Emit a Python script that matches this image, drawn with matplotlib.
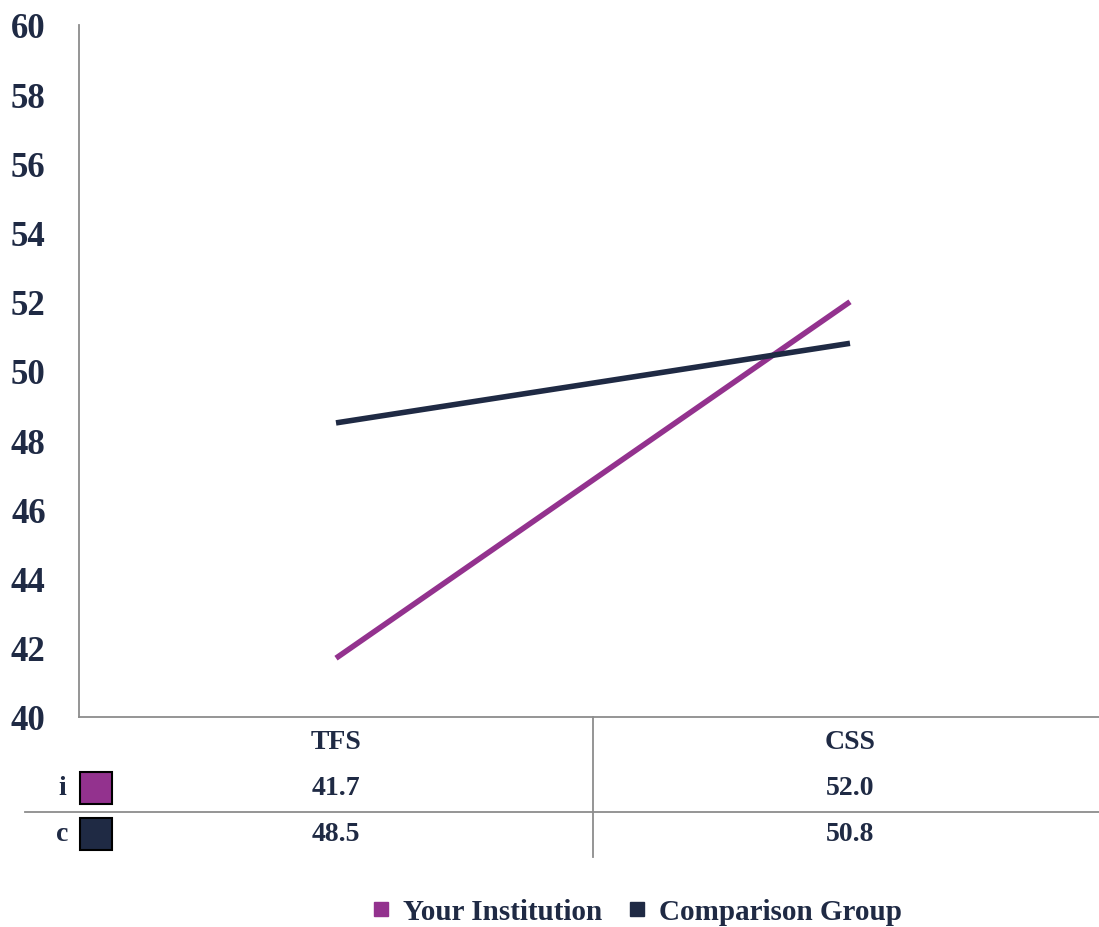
import matplotlib.pyplot as plt
from matplotlib.patches import Rectangle
from matplotlib.lines import Line2D

categories = ['TFS', 'CSS']
institution = [41.7, 52.0]
comparison = [48.5, 50.8]
series_names = ['Your Institution', 'Comparison Group']
row_labels = ['i', 'c']
yticks = list(range(40, 61, 2))

purple = '#93328E'
navy = '#1F2A44'
grid_gray = '#8C8C8C'

plt.rcParams['font.family'] = ['Liberation Serif', 'DejaVu Serif']
plt.rcParams['font.weight'] = 'bold'

fig = plt.figure(figsize=(10.99, 9.28), dpi=100)
W, H = 1099, 928
ax = fig.add_axes([79 / W, 210 / H, 1028 / W, 692 / H])

x = range(len(categories))
ax.plot(x, institution, color=purple, lw=4, solid_capstyle='butt')
ax.plot(x, comparison, color=navy, lw=4, solid_capstyle='butt')

ax.set_xlim(-0.5, len(categories) - 0.5)
ax.set_ylim(40, 60)
ax.set_yticks(yticks)
ax.set_yticklabels([str(t) for t in yticks], fontsize=25, color=navy, fontweight='bold')
ax.tick_params(axis='y', length=0, pad=24)
ax.set_xticks([])
for s in ['top', 'right']:
    ax.spines[s].set_visible(False)
for s in ['left', 'bottom']:
    ax.spines[s].set_color(grid_gray)
    ax.spines[s].set_linewidth(1.3)

# data table under the chart
def fy(py):
    return 1 - py / H

row_y = [789, 835]
rows = [institution, comparison]
colors = [purple, navy]
for i, cat in enumerate(categories):
    xc = (79 + (i + 0.5) * 514) / W
    fig.text(xc, fy(743), cat, ha='center', va='center', fontsize=20,
             color=navy, fontweight='bold')
    for vals, ry in zip(rows, row_y):
        fig.text(xc, fy(ry), f'{vals[i]:.1f}', ha='center', va='center',
                 fontsize=20, color=navy, fontweight='bold')

for lab, ry, c in zip(row_labels, row_y, colors):
    fig.text(62 / W, fy(ry), lab, ha='center', va='center', fontsize=20,
             color=navy, fontweight='bold')
    fig.add_artist(Rectangle((80 / W, fy(ry + 16)), 32 / W, 32 / H,
                             transform=fig.transFigure, facecolor=c,
                             edgecolor='black', lw=1.5))

fig.add_artist(Line2D([25 / W, 1], [fy(813), fy(813)], color=grid_gray, lw=1.3,
                      transform=fig.transFigure))
fig.add_artist(Line2D([593 / W, 593 / W], [fy(718), fy(858)], color=grid_gray,
                      lw=1.3, transform=fig.transFigure))

handles = [Line2D([], [], ls='none', marker='s', markersize=9.5, color=c)
           for c in colors]
leg = fig.legend(handles, series_names, loc='center', bbox_to_anchor=(637 / W, fy(913)),
                 ncol=2, frameon=False, handlelength=0.6, handletextpad=0.45,
                 columnspacing=0.9, prop={'size': 21, 'weight': 'bold'})
for t in leg.get_texts():
    t.set_color(navy)

fig.savefig('out.png', dpi=100)
